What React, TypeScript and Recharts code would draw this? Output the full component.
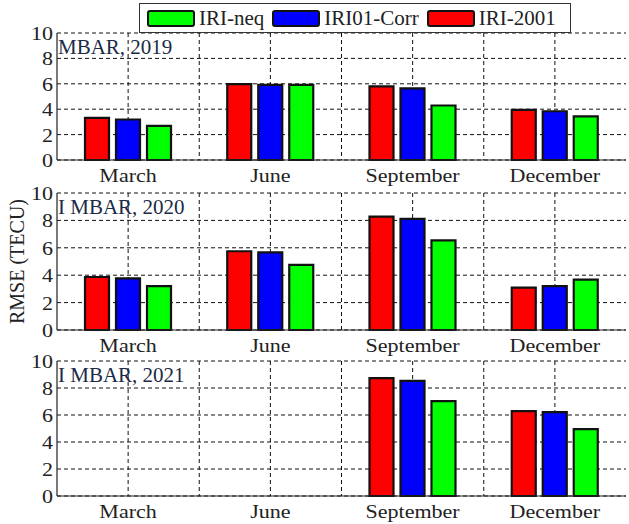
import { BarChart, Bar, XAxis, YAxis, CartesianGrid } from "recharts";

const MONTHS = ["March", "June", "September", "December"];
const PANEL_TITLES = ["MBAR, 2019", "I MBAR, 2020", "I MBAR, 2021"];
const Y_TICKS = [0, 2, 4, 6, 8, 10];

// RMSE (TECU) per panel (2019, 2020, 2021), months in MONTHS order
const IRI_2001 = [
  [3.32, 5.97, 5.79, 3.95],
  [3.87, 5.75, 8.28, 3.1],
  [null, null, 8.73, 6.28],
];
const IRI01_CORR = [
  [3.19, 5.92, 5.64, 3.84],
  [3.77, 5.66, 8.11, 3.2],
  [null, null, 8.53, 6.21],
];
const IRI_NEQ = [
  [2.68, 5.92, 4.29, 3.43],
  [3.2, 4.75, 6.54, 3.68],
  [null, null, 7.03, 4.95],
];

const SERIES = [
  { key: "iri2001", name: "IRI-2001", color: "#ff0000" },
  { key: "corr", name: "IRI01-Corr", color: "#0000ff" },
  { key: "neq", name: "IRI-neq", color: "#00ff00" },
];

const FONT = "'Liberation Serif', 'Times New Roman', serif";
const STRETCH = 1.16;

// layout of each panel: top of the chart div, chart height, top margin, x-axis height
const PANELS = [
  { top: 0, height: 190, marginTop: 33, axisHeight: 30 },
  { top: 175, height: 185, marginTop: 18, axisHeight: 30 },
  { top: 345, height: 179, marginTop: 16, axisHeight: 28 },
];

const stretch = (x: number) => `matrix(${STRETCH},0,0,1,${(1 - STRETCH) * x},0)`;

const XTick = ({ x, y, payload }: any) => (
  <text
    x={x}
    y={y}
    dy={22}
    textAnchor="middle"
    fontSize={19}
    fontFamily={FONT}
    fill="#222"
    transform={stretch(x)}
  >
    {payload.value}
  </text>
);

const YTick = ({ x, y, payload }: any) => (
  <text
    x={x}
    y={y}
    dy={7}
    textAnchor="end"
    fontSize={19}
    fontFamily={FONT}
    fill="#222"
    transform={stretch(x)}
  >
    {payload.value}
  </text>
);

const gridVerticals = ({ offset }: any) =>
  [1, 2, 3, 4, 5, 6, 7].map((k) => offset.left + (offset.width * k) / 8);

function Panel({ index }: { index: number }) {
  const p = PANELS[index];
  const data = MONTHS.map((m, i) => ({
    month: m,
    iri2001: IRI_2001[index][i],
    corr: IRI01_CORR[index][i],
    neq: IRI_NEQ[index][i],
  }));

  return (
    <div style={{ position: "absolute", left: 0, top: p.top }}>
      <BarChart
        width={629}
        height={p.height}
        data={data}
        margin={{ top: p.marginTop, right: 3, left: 0, bottom: 0 }}
        barSize={24}
        barGap={7}
      >
        <CartesianGrid
          stroke="#111"
          strokeDasharray="4 3"
          verticalCoordinatesGenerator={gridVerticals}
        />
        <XAxis
          dataKey="month"
          height={p.axisHeight}
          tick={<XTick />}
          tickLine={false}
          tickSize={0}
          tickMargin={0}
          axisLine={{ stroke: "#222", strokeWidth: 1.2 }}
          interval={0}
        />
        <XAxis
          xAxisId="top"
          orientation="top"
          dataKey="month"
          height={0}
          tick={false}
          tickLine={false}
          axisLine={{ stroke: "#222", strokeWidth: 1.2 }}
        />
        <YAxis
          width={57}
          domain={[0, 10]}
          ticks={Y_TICKS}
          tick={<YTick />}
          tickLine={false}
          tickSize={0}
          tickMargin={4}
          axisLine={{ stroke: "#222", strokeWidth: 1.2 }}
          interval={0}
          label={
            index === 1
              ? {
                  value: "RMSE (TECU)",
                  angle: -90,
                  position: "insideLeft",
                  offset: 0,
                  dx: 17,
                  style: {
                    fontSize: 20,
                    fontFamily: FONT,
                    fill: "#222",
                    textAnchor: "middle",
                  },
                }
              : undefined
          }
        />
        <YAxis
          yAxisId="right"
          orientation="right"
          width={0}
          domain={[0, 10]}
          tick={false}
          tickLine={false}
          axisLine={{ stroke: "#222", strokeWidth: 1.2 }}
        />
        {SERIES.map((s) => (
          <Bar
            key={s.key}
            dataKey={s.key}
            name={s.name}
            fill={s.color}
            stroke="#111"
            strokeWidth={2.2}
            isAnimationActive={false}
          />
        ))}
      </BarChart>
      <div
        style={{
          position: "absolute",
          left: 58,
          top: p.marginTop + 2,
          fontFamily: FONT,
          fontSize: 21,
          color: "#1b2a45",
          whiteSpace: "nowrap",
          pointerEvents: "none",
        }}
      >
        {PANEL_TITLES[index]}
      </div>
    </div>
  );
}

function LegendBox() {
  const order = [...SERIES].reverse();
  return (
    <div
      style={{
        position: "absolute",
        left: 139,
        top: 3,
        width: 432,
        height: 30,
        boxSizing: "border-box",
        border: "1px solid #333",
        background: "#fff",
        display: "flex",
        alignItems: "center",
        paddingLeft: 7,
        fontFamily: FONT,
        fontSize: 21,
        color: "#222",
        zIndex: 2,
      }}
    >
      {order.map((s) => (
        <div key={s.key} style={{ display: "flex", alignItems: "center", marginRight: 8 }}>
          <span
            style={{
              display: "inline-block",
              width: 44,
              height: 13,
              background: s.color,
              border: "2px solid #111",
              borderRadius: 3,
              marginRight: 4,
            }}
          />
          <span>{s.name}</span>
        </div>
      ))}
    </div>
  );
}

export default function App() {
  return (
    <div
      style={{
        position: "absolute",
        left: 0,
        top: 0,
        width: 629,
        height: 524,
        background: "#fff",
      }}
    >
      {PANELS.map((_, i) => (
        <Panel key={i} index={i} />
      ))}
      <LegendBox />
    </div>
  );
}
